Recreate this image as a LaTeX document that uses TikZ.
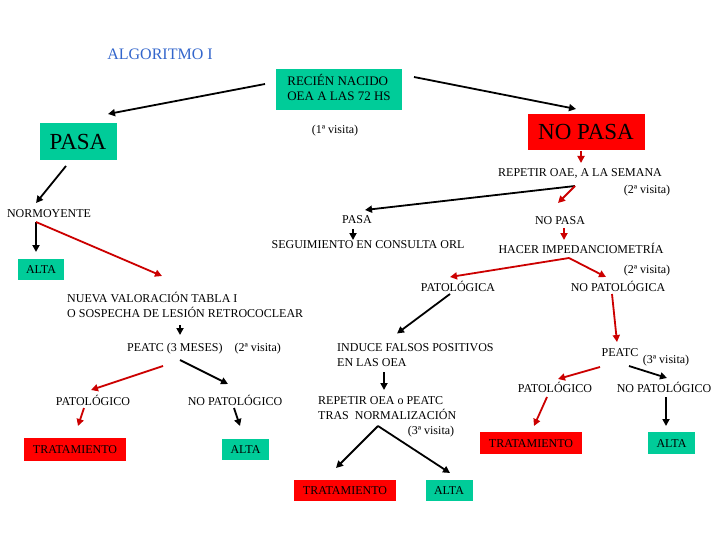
\documentclass[tikz,border=0pt]{standalone}
\usepackage{fontspec}
\setmainfont{Liberation Serif}
\usetikzlibrary{arrows.meta,calc}
\definecolor{boxgreen}{RGB}{0,204,153}
\definecolor{boxred}{RGB}{255,0,0}
\definecolor{arrred}{RGB}{204,0,0}
\definecolor{titleblue}{RGB}{51,102,204}
\newcommand{\twolines}[2]{\begin{tabular}[t]{@{}l@{}}#1\\#2\end{tabular}}
\tikzset{
  lbl/.style={inner sep=0pt, font=\fontsize{12}{15}\selectfont, text height=8pt, text depth=0pt},
  mlbl/.style={inner sep=0pt, font=\fontsize{12}{15}\selectfont, anchor=base west},
  gbox/.style={lbl, fill=boxgreen},
  rbox/.style={lbl, fill=boxred},
  bigbox/.style={inner sep=0pt, font=\fontsize{23}{27}\selectfont, text height=15pt, text depth=0pt},
  blk/.style={draw=black, line width=1.8pt, -{Triangle[length=7pt,width=7pt]}},
  rarr/.style={draw=arrred, line width=1.8pt, arrred, -{Triangle[length=7pt,width=7pt]}}
}
\begin{document}
\begin{tikzpicture}[x=1pt,y=-1pt]
\useasboundingbox (0,0) rectangle (720,540);
\fill[white] (0,0) rectangle (720,540);

% title and top
\node[inner sep=0pt, font=\fontsize{16}{19}\selectfont, text height=10.5pt, text depth=0pt, text=titleblue] (title) at (160,54) {ALGORITMO I};
\node[fill=boxgreen, inner sep=0pt, minimum width=126pt, minimum height=41pt, font=\fontsize{13}{15}\selectfont] (rn) at (339,90) {\twolines{RECIÉN NACIDO}{OEA A LAS 72 HS}};
\node[bigbox, fill=boxgreen, minimum width=77pt, minimum height=37pt] (pasa1) at (78,142) {PASA};
\node[bigbox, fill=boxred, minimum width=117pt, minimum height=36pt] (nopasa1) at (586,132) {NO PASA};
\node[lbl] (v1) at (335,130) {(1ª visita)};

% right branch
\node[lbl] (rep1) at (580,173) {REPETIR OAE, A LA SEMANA};
\node[lbl] (v2a) at (647,190) {(2ª visita)};
\node[lbl] (pasa2) at (357,220) {PASA};
\node[lbl] (nopasa2) at (560,221) {NO PASA};
\node[lbl] (seg) at (368,244) {SEGUIMIENTO EN CONSULTA ORL};
\node[lbl] (hacer) at (581,250) {HACER IMPEDANCIOMETRÍA};
\node[lbl] (v2b) at (647,269) {(2ª visita)};
\node[lbl] (patol) at (458,287) {PATOLÓGICA};
\node[lbl] (nopatol) at (618,287) {NO PATOLÓGICA};
\node[mlbl] (induce) at (337,351) {\twolines{INDUCE FALSOS POSITIVOS}{EN LAS OEA}};
\node[mlbl] (rep2) at (318,404) {\twolines{REPETIR OEA o PEATC}{TRAS\ \ NORMALIZACIÓN}};
\node[lbl] (v3a) at (431,430) {(3ª visita)};
\node[rbox, minimum width=102pt, minimum height=21pt] (trat3) at (345,490) {TRATAMIENTO};
\node[gbox, minimum width=47pt, minimum height=21pt] (alta3) at (449,490) {ALTA};
\node[lbl] (peatc3) at (620,352) {PEATC};
\node[lbl] (v3b) at (666,359) {(3ª visita)};
\node[lbl] (pat3) at (555,388) {PATOLÓGICO};
\node[lbl] (nopat3) at (664,388) {NO PATOLÓGICO};
\node[rbox, minimum width=102pt, minimum height=22pt] (trat4) at (531,443) {TRATAMIENTO};
\node[gbox, minimum width=47pt, minimum height=22pt] (alta4) at (671.5,443) {ALTA};

% left branch
\node[lbl] (normo) at (49,214) {NORMOYENTE};
\node[gbox, minimum width=46pt, minimum height=21pt] (alta1) at (41,269) {ALTA};
\node[mlbl] (nueva) at (67,302) {\twolines{NUEVA VALORACIÓN TABLA I}{O SOSPECHA DE LESIÓN RETROCOCLEAR}};
\node[lbl, anchor=west] (peatc1) at (127,347) {PEATC (3 MESES)\hspace{12pt}(2ª visita)};
\node[lbl] (pat1) at (93,401) {PATOLÓGICO};
\node[lbl] (nopat1) at (235,401) {NO PATOLÓGICO};
\node[rbox, minimum width=102pt, minimum height=23pt] (trat1) at (75,449.5) {TRATAMIENTO};
\node[gbox, minimum width=47pt, minimum height=21pt] (alta2) at (245.5,449) {ALTA};

% black connectors
\draw[blk] ($(rn)+(-74,-6)$) -- ($(pasa1)+(30,-28)$);
\draw[blk] ($(rn)+(75,-13)$) -- ($(nopasa1)+(-10,-23)$);
\draw[blk] ($(pasa1)+(-12,24)$) -- ($(normo)+(-13,-11)$);
\draw[blk] ($(normo)+(-13,8)$) -- ($(alta1)+(-5,-17)$);
\draw[blk] ($(rep1)+(-5,13)$) -- ($(pasa2)+(8,-10)$);
\draw[blk] ($(pasa2)+(-4,9)$) -- ($(seg)+(-15,-4)$);
\draw[blk] ($(patol)+(-8,7)$) -- ($(induce.west)+(60,-22)$);
\draw[blk] ($(nueva.base west)+(113,23)$) -- ($(peatc1.west)+(53,-12)$);
\draw[blk] ($(peatc1.west)+(53,13)$) -- ($(nopat1)+(-7,-17)$);
\draw[blk] ($(nopat1)+(-1,7)$) -- ($(alta2)+(-5.5,-23)$);
\draw[blk] ($(induce.base west)+(47,21)$) -- ($(rep2.base west)+(66,-14)$);
\draw[blk] ($(rep2.base west)+(60,22)$) -- ($(trat3)+(-9,-22)$);
\draw[blk] ($(rep2.base west)+(60,22)$) -- ($(alta3)+(1,-17)$);
\draw[blk] ($(peatc3)+(9,14)$) -- ($(nopat3)+(3,-10)$);
\draw[blk] ($(nopat3)+(2,9)$) -- ($(alta4)+(-5.5,-17)$);

% red connectors
\draw[rarr] ($(nopasa1)+(-5,19)$) -- ($(rep1)+(1,-10)$);
\draw[rarr] ($(rep1)+(-5,13)$) -- ($(nopasa2)+(-2,-18)$);
\draw[rarr] ($(nopasa2)+(4,7)$) -- ($(hacer)+(-17,-10)$);
\draw[rarr] ($(hacer)+(-12,8)$) -- ($(patol)+(-8,-10)$);
\draw[rarr] ($(hacer)+(-12,8)$) -- ($(nopatol)+(-12,-10)$);
\draw[rarr] ($(normo)+(-13,8)$) -- ($(nueva.base west)+(95,-26)$);
\draw[rarr] ($(peatc1.west)+(36,19)$) -- ($(pat1)+(-2,-11)$);
\draw[rarr] ($(pat1)+(-9,7)$) -- ($(trat1)+(3,-23.5)$);
\draw[rarr] ($(nopatol)+(-6,7)$) -- ($(peatc3)+(-3,-10)$);
\draw[rarr] ($(peatc3)+(-20,15)$) -- ($(pat3)+(3,-9)$);
\draw[rarr] ($(pat3)+(-8,9)$) -- ($(trat4)+(3,-17)$);
\end{tikzpicture}
\end{document}
